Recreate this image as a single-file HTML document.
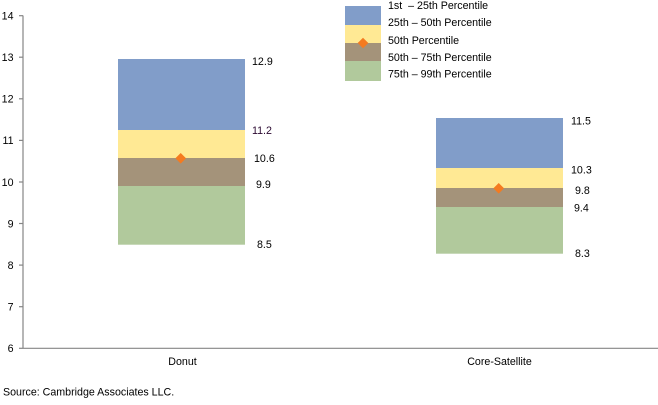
<!DOCTYPE html>
<html><head><meta charset="utf-8"><style>
html,body{margin:0;padding:0;background:#fff;}
svg{display:block;}
text{font-family:"Liberation Sans",Arial,sans-serif;font-size:10.67px;fill:#000;}
</style></head><body>
<svg width="658" height="405" viewBox="0 0 658 405" xmlns="http://www.w3.org/2000/svg">
<!-- axes -->
<line x1="23" y1="15.5" x2="23" y2="348.3" stroke="#868686" stroke-width="1.2"/>
<line x1="23" y1="348.3" x2="658" y2="348.3" stroke="#868686" stroke-width="1.2"/>
<g stroke="#868686" stroke-width="1.2">
<line x1="19" y1="15.7" x2="23" y2="15.7"/>
<line x1="19" y1="57.2" x2="23" y2="57.2"/>
<line x1="19" y1="98.8" x2="23" y2="98.8"/>
<line x1="19" y1="140.4" x2="23" y2="140.4"/>
<line x1="19" y1="182" x2="23" y2="182"/>
<line x1="19" y1="223.5" x2="23" y2="223.5"/>
<line x1="19" y1="265.1" x2="23" y2="265.1"/>
<line x1="19" y1="306.7" x2="23" y2="306.7"/>
<line x1="19" y1="348.3" x2="23" y2="348.3"/>
</g>
<g text-anchor="end">
<text x="13.5" y="19.5">14</text>
<text x="13.5" y="61">13</text>
<text x="13.5" y="102.6">12</text>
<text x="13.5" y="144.2">11</text>
<text x="13.5" y="185.8">10</text>
<text x="13.5" y="227.3">9</text>
<text x="13.5" y="268.9">8</text>
<text x="13.5" y="310.5">7</text>
<text x="13.5" y="352.1">6</text>
</g>
<!-- Donut -->
<rect x="118" y="59" width="127" height="71" fill="#819DC9"/>
<rect x="118" y="130" width="127" height="28" fill="#FFE994"/>
<rect x="118" y="158" width="127" height="28" fill="#A4937A"/>
<rect x="118" y="186" width="127" height="58.7" fill="#B1C99C"/>
<polygon points="180.7,153 186,158.3 180.7,163.6 175.4,158.3" fill="#F47B20"/>
<text x="252" y="65">12.9</text>
<text x="252" y="134" style="fill:#2a0830">11.2</text>
<text x="254" y="162">10.6</text>
<text x="256" y="188">9.9</text>
<text x="257" y="248">8.5</text>
<!-- Core-Satellite -->
<rect x="436" y="118" width="127" height="50" fill="#819DC9"/>
<rect x="436" y="168" width="127" height="20" fill="#FFE994"/>
<rect x="436" y="188" width="127" height="19" fill="#A4937A"/>
<rect x="436" y="207" width="127" height="46.7" fill="#B1C99C"/>
<polygon points="498.7,183 504,188.3 498.7,193.6 493.4,188.3" fill="#F47B20"/>
<text x="571" y="124.5">11.5</text>
<text x="571" y="173.5">10.3</text>
<text x="575" y="194">9.8</text>
<text x="574" y="211.5">9.4</text>
<text x="575" y="257">8.3</text>
<!-- category labels -->
<text x="182.5" y="365" text-anchor="middle">Donut</text>
<text x="499.5" y="365" text-anchor="middle">Core-Satellite</text>
<!-- legend -->
<rect x="345" y="6" width="36" height="19" fill="#819DC9"/>
<rect x="345" y="25" width="36" height="18" fill="#FFE994"/>
<rect x="345" y="43" width="36" height="18" fill="#A4937A"/>
<rect x="345" y="61" width="36" height="20" fill="#B1C99C"/>
<polygon points="363,37.7 368.3,43 363,48.3 357.7,43" fill="#F47B20"/>
<text x="388" y="9" xml:space="preserve">1st  – 25th Percentile</text>
<text x="388" y="26">25th – 50th Percentile</text>
<text x="388" y="44">50th Percentile</text>
<text x="388" y="61">50th – 75th Percentile</text>
<text x="388" y="77.5">75th – 99th Percentile</text>
<!-- source -->
<text x="3" y="395.5">Source: Cambridge Associates LLC.</text>
</svg>
</body></html>
